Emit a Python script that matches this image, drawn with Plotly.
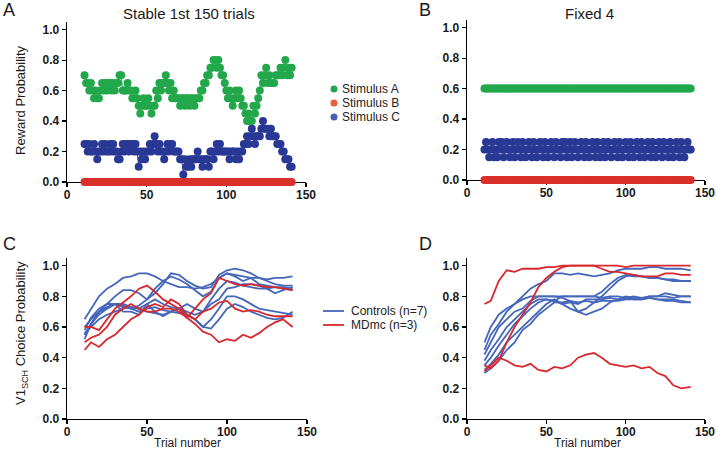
import plotly.graph_objects as go

W, H = 716, 454

# ---------------- data ----------------
trials = list(range(11, 142))  # 131 trials

stimA = [0.70,0.65,0.65,0.60,0.65,0.60,0.55,0.60,0.55,0.55,
         0.60,0.65,0.60,0.65,0.60,0.65,0.65,0.60,0.65,0.60,
         0.65,0.65,0.70,0.70,0.60,0.60,0.60,0.65,0.60,0.60,
         0.55,0.55,0.60,0.55,0.50,0.45,0.50,0.55,0.50,0.50,
         0.55,0.50,0.45,0.50,0.50,0.60,0.55,0.65,0.60,0.65,
         0.65,0.70,0.65,0.60,0.65,0.55,0.60,0.55,0.55,0.55,
         0.50,0.55,0.55,0.50,0.55,0.55,0.50,0.55,0.55,0.50,
         0.55,0.55,0.55,0.60,0.60,0.65,0.65,0.70,0.70,0.75,
         0.75,0.80,0.80,0.75,0.80,0.75,0.70,0.70,0.65,0.60,
         0.55,0.60,0.55,0.50,0.55,0.60,0.55,0.60,0.55,0.50,
         0.50,0.45,0.40,0.45,0.40,0.40,0.50,0.45,0.50,0.55,
         0.60,0.70,0.65,0.70,0.75,0.65,0.70,0.65,0.65,0.65,
         0.70,0.70,0.70,0.75,0.70,0.75,0.80,0.70,0.75,0.70,0.75]

stimB = [0.0] * 131

stimC = [0.25,0.25,0.20,0.25,0.20,0.20,0.25,0.20,0.15,0.20,
         0.20,0.25,0.20,0.25,0.20,0.20,0.25,0.20,0.25,0.20,
         0.20,0.15,0.15,0.20,0.25,0.20,0.25,0.25,0.20,0.25,
         0.25,0.20,0.25,0.20,0.10,0.20,0.15,0.20,0.15,0.20,
         0.20,0.25,0.20,0.25,0.30,0.25,0.20,0.25,0.20,0.20,
         0.15,0.20,0.25,0.20,0.25,0.25,0.20,0.20,0.20,0.20,
         0.15,0.15,0.05,0.15,0.10,0.10,0.15,0.10,0.15,0.15,
         0.15,0.20,0.15,0.15,0.10,0.15,0.15,0.15,0.10,0.20,
         0.20,0.15,0.20,0.25,0.20,0.25,0.20,0.20,0.20,0.20,
         0.20,0.15,0.20,0.20,0.20,0.15,0.20,0.15,0.20,0.20,
         0.25,0.25,0.30,0.25,0.30,0.35,0.30,0.25,0.30,0.30,
         0.30,0.35,0.40,0.35,0.35,0.35,0.30,0.35,0.30,0.30,
         0.30,0.25,0.25,0.25,0.20,0.20,0.15,0.15,0.15,0.10,0.10]

fixA = [0.6] * 131
fixB = [0.0] * 131
fixC = [0.20,0.25,0.20,0.15,0.20,0.25,0.15,0.20,0.15,0.25,
        0.20,0.25,0.15,0.20,0.25,0.20,0.15,0.20,0.25,0.15,
        0.20,0.25,0.20,0.15,0.25,0.20,0.15,0.20,0.25,0.20,
        0.15,0.25,0.20,0.15,0.20,0.25,0.20,0.15,0.25,0.20,
        0.15,0.20,0.25,0.20,0.15,0.25,0.20,0.20,0.15,0.25,
        0.20,0.25,0.15,0.20,0.25,0.15,0.20,0.25,0.20,0.15,
        0.20,0.25,0.20,0.15,0.25,0.20,0.15,0.20,0.25,0.20,
        0.15,0.25,0.20,0.15,0.20,0.25,0.15,0.20,0.25,0.20,
        0.15,0.20,0.25,0.20,0.15,0.25,0.20,0.15,0.20,0.25,
        0.20,0.15,0.25,0.20,0.15,0.20,0.25,0.20,0.15,0.25,
        0.20,0.15,0.20,0.25,0.20,0.15,0.25,0.20,0.15,0.20,
        0.25,0.20,0.15,0.25,0.20,0.20,0.15,0.25,0.20,0.15,
        0.20,0.25,0.20,0.15,0.25,0.20,0.15,0.20,0.25,0.20,0.20]

xg = [11,15,20,25,30,35,40,45,50,55,60,65,70,75,80,85,90,95,100,105,110,115,120,125,130,135,141]

ctrl_stable = [
    [0.65,0.72,0.80,0.85,0.88,0.92,0.93,0.95,0.95,0.93,0.90,0.88,0.86,0.86,0.85,0.86,0.88,0.92,0.95,0.94,0.93,0.92,0.92,0.91,0.92,0.92,0.93],
    [0.55,0.62,0.70,0.75,0.80,0.84,0.84,0.82,0.78,0.82,0.88,0.95,0.94,0.90,0.87,0.85,0.86,0.94,0.97,0.98,0.97,0.95,0.92,0.90,0.88,0.87,0.87],
    [0.60,0.65,0.70,0.73,0.75,0.74,0.72,0.74,0.78,0.85,0.90,0.93,0.91,0.88,0.84,0.80,0.83,0.92,0.95,0.93,0.90,0.92,0.88,0.87,0.86,0.86,0.85],
    [0.52,0.62,0.70,0.72,0.75,0.75,0.73,0.72,0.75,0.78,0.75,0.73,0.72,0.70,0.68,0.70,0.75,0.78,0.85,0.86,0.88,0.88,0.87,0.85,0.82,0.84,0.86],
    [0.58,0.66,0.72,0.75,0.75,0.73,0.72,0.70,0.72,0.73,0.71,0.70,0.72,0.68,0.65,0.60,0.59,0.65,0.72,0.75,0.73,0.70,0.68,0.66,0.65,0.66,0.70],
    [0.56,0.60,0.65,0.68,0.70,0.72,0.73,0.72,0.70,0.69,0.68,0.70,0.69,0.68,0.65,0.60,0.65,0.72,0.80,0.80,0.78,0.75,0.72,0.71,0.70,0.69,0.68],
    [0.55,0.62,0.68,0.72,0.75,0.70,0.70,0.68,0.75,0.70,0.67,0.70,0.72,0.75,0.72,0.70,0.78,0.85,0.90,0.89,0.87,0.86,0.85,0.85,0.86,0.85,0.84],
]
md_stable = [
    [0.60,0.60,0.58,0.65,0.72,0.76,0.80,0.85,0.87,0.83,0.78,0.75,0.72,0.66,0.62,0.57,0.55,0.50,0.52,0.51,0.55,0.53,0.56,0.60,0.63,0.65,0.60],
    [0.45,0.50,0.47,0.52,0.55,0.60,0.65,0.68,0.73,0.75,0.73,0.78,0.75,0.68,0.65,0.70,0.72,0.76,0.77,0.72,0.70,0.71,0.70,0.68,0.67,0.67,0.67],
    [0.50,0.53,0.55,0.60,0.68,0.72,0.75,0.72,0.70,0.70,0.72,0.72,0.70,0.66,0.72,0.78,0.82,0.92,0.90,0.88,0.87,0.88,0.87,0.86,0.86,0.85,0.84],
]
ctrl_fixed = [
    [0.50,0.60,0.68,0.72,0.75,0.78,0.80,0.80,0.80,0.80,0.80,0.80,0.80,0.80,0.80,0.79,0.80,0.80,0.79,0.80,0.79,0.80,0.80,0.80,0.79,0.80,0.80],
    [0.45,0.55,0.62,0.70,0.75,0.80,0.85,0.88,0.90,0.95,0.95,0.94,0.95,0.94,0.93,0.94,0.95,0.97,0.98,0.98,0.98,0.99,0.99,0.98,0.98,0.98,0.97],
    [0.42,0.50,0.60,0.65,0.70,0.72,0.77,0.80,0.80,0.80,0.79,0.77,0.70,0.68,0.70,0.72,0.76,0.78,0.80,0.79,0.78,0.80,0.80,0.82,0.81,0.80,0.80],
    [0.38,0.45,0.52,0.60,0.65,0.70,0.75,0.78,0.78,0.77,0.80,0.80,0.80,0.80,0.80,0.83,0.88,0.92,0.94,0.93,0.93,0.92,0.92,0.91,0.91,0.90,0.90],
    [0.35,0.40,0.48,0.55,0.62,0.67,0.72,0.76,0.78,0.77,0.75,0.76,0.75,0.78,0.78,0.78,0.79,0.78,0.79,0.78,0.78,0.79,0.78,0.78,0.78,0.77,0.76],
    [0.32,0.36,0.42,0.50,0.55,0.60,0.65,0.70,0.75,0.78,0.75,0.72,0.70,0.72,0.76,0.80,0.85,0.90,0.93,0.94,0.93,0.92,0.92,0.91,0.90,0.90,0.90],
    [0.30,0.33,0.38,0.45,0.50,0.58,0.62,0.68,0.72,0.76,0.76,0.77,0.76,0.77,0.76,0.77,0.77,0.77,0.78,0.78,0.78,0.79,0.78,0.77,0.77,0.76,0.76],
]
md_fixed = [
    [0.75,0.77,0.90,0.97,0.96,0.98,0.98,0.98,0.99,0.99,1.00,1.00,1.00,1.00,1.00,1.00,1.00,1.00,0.99,1.00,1.00,1.00,1.00,1.00,1.00,1.00,1.00],
    [0.31,0.35,0.40,0.38,0.35,0.34,0.36,0.32,0.31,0.34,0.33,0.35,0.40,0.42,0.43,0.40,0.36,0.35,0.34,0.35,0.33,0.34,0.30,0.28,0.22,0.20,0.21],
    [0.35,0.33,0.38,0.50,0.60,0.68,0.76,0.86,0.92,0.96,0.99,1.00,1.00,1.00,1.00,0.98,0.96,0.96,0.95,0.94,0.93,0.93,0.93,0.95,0.95,0.94,0.94],
]

x_ticks = [0, 50, 100, 150]
y_ticks = [0.0, 0.2, 0.4, 0.6, 0.8, 1.0]

stim_legend = ["Stimulus A", "Stimulus B", "Stimulus C"]
group_legend = ["Controls (n=7)", "MDmc (n=3)"]

# ---------------- styles ----------------
GREEN, RED, NAVY = "#22a84b", "#d9302b", "#283894"
LBLUE, LRED = "#4466bb", "#d8282e"
LEG_COLS = ["#1fa656", "#ea5b3a", "#4a5db5"]
FONT = "Liberation Sans"

fig = go.Figure()

def dots(x, y, color, xa, ya):
    fig.add_trace(go.Scatter(x=x, y=y, mode="lines+markers", xaxis=xa, yaxis=ya,
                             line=dict(color=color, width=1),
                             marker=dict(color=color, size=8),
                             cliponaxis=False, showlegend=False, hoverinfo="skip"))

dots(trials, stimA, GREEN, "x", "y")
dots(trials, stimC, NAVY, "x", "y")
dots(trials, stimB, RED, "x", "y")
dots(trials, fixA, GREEN, "x2", "y2")
dots(trials, fixC, NAVY, "x2", "y2")
dots(trials, fixB, RED, "x2", "y2")

for xa, ya, ctrl, md in [("x3", "y3", ctrl_stable, md_stable), ("x4", "y4", ctrl_fixed, md_fixed)]:
    for s in ctrl:
        fig.add_trace(go.Scatter(x=xg, y=s, mode="lines", xaxis=xa, yaxis=ya,
                                 line=dict(color=LBLUE, width=1.8), showlegend=False,
                                 hoverinfo="skip"))
    for s in md:
        fig.add_trace(go.Scatter(x=xg, y=s, mode="lines", xaxis=xa, yaxis=ya,
                                 line=dict(color=LRED, width=1.8), showlegend=False,
                                 hoverinfo="skip"))

def xpx(a, b):
    return [a / W, b / W]

def ypx(top, bottom):
    return [1 - bottom / H, 1 - top / H]

tickfont = dict(family=FONT, size=12, color="#1a1a1a", weight="bold")
axcommon = dict(showline=True, linecolor="black", linewidth=1.3, ticks="outside", ticklen=4,
                tickwidth=1.2, tickcolor="black", showgrid=False, zeroline=False,
                tickfont=tickfont, layer="below traces", fixedrange=True)

layout_axes = {}
specs = [
    ("", xpx(67, 306), ypx(22, 182)),
    ("2", xpx(467, 705), ypx(20, 180)),
    ("3", xpx(67, 307), ypx(258, 419)),
    ("4", xpx(467, 705), ypx(258, 419)),
]
for sfx, xd, yd in specs:
    layout_axes["xaxis" + sfx] = dict(domain=xd, range=[0, 150], tickvals=x_ticks,
                                       anchor="y" + sfx, ticklabelstandoff=-3, **axcommon)
    layout_axes["yaxis" + sfx] = dict(domain=yd, range=[0, 1.05], tickvals=y_ticks,
                                       tickformat=".1f", anchor="x" + sfx, **axcommon)

def ann(text, px, py, size, angle=0, xanchor="center", yanchor="middle", color="#1a1a1a"):
    return dict(text=text, x=px / W, y=1 - py / H, xref="paper", yref="paper",
                showarrow=False, textangle=angle, xanchor=xanchor, yanchor=yanchor,
                font=dict(family=FONT, size=size, color=color))

annotations = [
    ann("A", 1, 10, 18, xanchor="left"),
    ann("B", 417, 10, 18, xanchor="left"),
    ann("C", 1, 244, 18, xanchor="left"),
    ann("D", 417, 244, 18, xanchor="left"),
    ann("Stable 1st 150 trials", 189, 13, 15),
    ann("Fixed 4", 589, 13, 15),
    ann("Reward Probability", 21, 100, 13, angle=-90),
    ann("V1<sub>SCH</sub> Choice Probability", 21, 333, 13, angle=-90),
    ann("Trial number", 187, 443, 12),
    ann("Trial number", 587, 443, 12),
]

# manual legends (symbols + labels)
shapes = []
for i, (name, col) in enumerate(zip(stim_legend, LEG_COLS)):
    cy = 89 + 14 * i
    shapes.append(dict(type="circle", xref="paper", yref="paper",
                       x0=(334 - 3.5) / W, x1=(334 + 3.5) / W,
                       y0=1 - (cy + 3.5) / H, y1=1 - (cy - 3.5) / H,
                       fillcolor=col, line=dict(width=0)))
    annotations.append(ann(name, 340, cy, 12, xanchor="left", color="#222"))
for i, (name, col) in enumerate(zip(group_legend, [LBLUE, LRED])):
    cy = 311 + 14 * i
    shapes.append(dict(type="line", xref="paper", yref="paper",
                       x0=323 / W, x1=344 / W, y0=1 - cy / H, y1=1 - cy / H,
                       line=dict(color=col, width=1.8)))
    annotations.append(ann(name, 349, cy, 12, xanchor="left", color="#222"))

fig.update_layout(
    width=W, height=H, margin=dict(l=0, r=0, t=0, b=0, autoexpand=False),
    paper_bgcolor="white", plot_bgcolor="white", showlegend=False,
    hovermode=False,
    annotations=annotations, shapes=shapes,
    **layout_axes,
)

fig.write_html("out.html", config={"displayModeBar": False, "staticPlot": True},
               post_script="document.body.style.margin='0';document.body.style.padding='0';")
